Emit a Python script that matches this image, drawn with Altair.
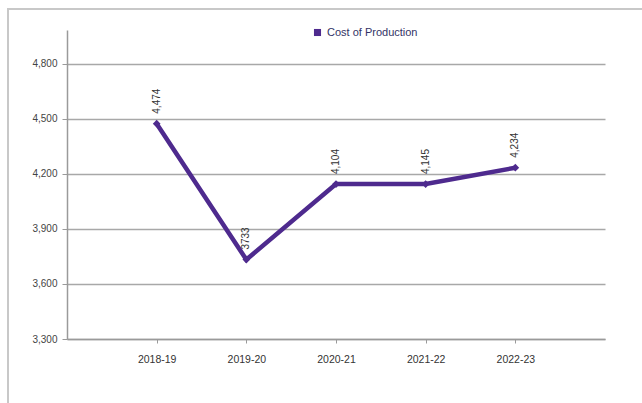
import altair as alt
import pandas as pd

years = ["2018-19", "2019-20", "2020-21", "2021-22", "2022-23"]
values = [4474, 3733, 4145, 4145, 4234]
labels = ["4,474", "3733", "4,104", "4,145", "4,234"]
series = ["Cost of Production"] * 5
y_ticks = [3300, 3600, 3900, 4200, 4500, 4800]

df = pd.DataFrame({"year": years, "value": values, "label": labels, "series": series})

PURPLE = "#4e2a8e"
FONT = "Liberation Sans"

x_enc = alt.X("year:N", sort=years, title=None,
              scale=alt.Scale(type="point", padding=1),
              axis=alt.Axis(labelAngle=0, labelFontSize=10.5, labelColor="#333333",
                            labelFont=FONT, tickColor="#9a9a9a", tickSize=4,
                            domainColor="#9a9a9a", domainWidth=1.5, labelPadding=11,
                            grid=False))
y_enc = alt.Y("value:Q", title=None,
              scale=alt.Scale(domain=[3300, 4985], nice=False, zero=False),
              axis=alt.Axis(values=y_ticks, format=",.0f", labelFontSize=10,
                            labelColor="#444444", labelFont=FONT,
                            tickColor="#9a9a9a", tickSize=5, labelPadding=5,
                            domainColor="#9a9a9a", domainWidth=1.5,
                            grid=True, gridColor="#a8a8a8", gridWidth=1.6))

base = alt.Chart(df)

frame_top = base.mark_rule(stroke="#c8c8c8", strokeWidth=2).encode(
    y=alt.value(-21), x=alt.value(-59), x2=alt.value(575)
)
frame_left = base.mark_rule(stroke="#c8c8c8", strokeWidth=2).encode(
    x=alt.value(-59), y=alt.value(-22), y2=alt.value(375)
)

line = base.mark_line(color=PURPLE, strokeWidth=4.5).encode(x=x_enc, y=y_enc)

points = base.mark_point(shape="diamond", filled=True, size=60, opacity=1).encode(
    x=x_enc, y=y_enc,
    color=alt.Color("series:N", title=None,
                    scale=alt.Scale(range=[PURPLE]),
                    legend=alt.Legend(orient="none", legendX=245, legendY=-3,
                                      symbolType="square", symbolSize=50,
                                      labelFontSize=11, labelFont=FONT,
                                      labelColor="#333366", symbolStrokeWidth=0))
)

text = base.mark_text(angle=270, align="left", baseline="middle", dx=10,
                      fontSize=10, font=FONT, color="#333333").encode(
    x=x_enc, y=y_enc, text="label:N"
)

chart = alt.layer(frame_top, frame_left, line, points, text).properties(
    width=538, height=309,
    autosize=alt.AutoSizeParams(type="none"),
    padding={"left": 67, "top": 30, "right": 37, "bottom": 64},
    background="white",
).configure_view(stroke=None)

chart.save("out.html", embed_options={"renderer": "svg", "actions": False})
